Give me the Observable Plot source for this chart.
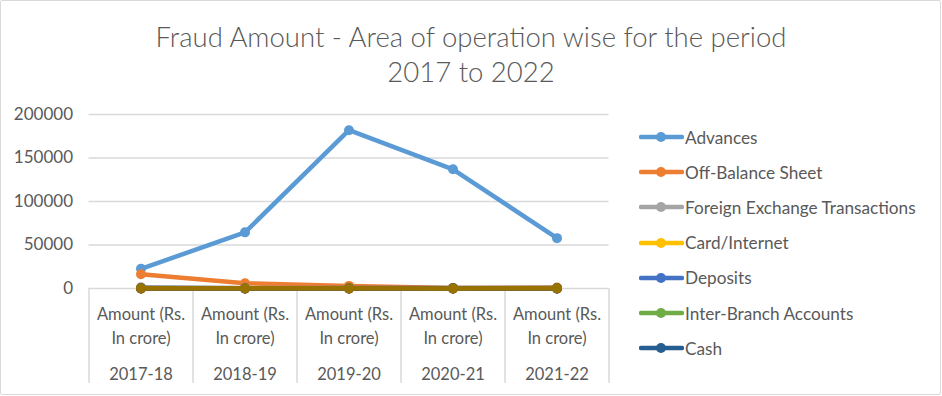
<!DOCTYPE html>
<html>
<head>
<meta charset="utf-8">
<script src="https://cdn.jsdelivr.net/npm/d3@7"></script>
<script src="https://cdn.jsdelivr.net/npm/@observablehq/plot@0.6"></script>
<style>
  html, body { margin: 0; padding: 0; background: #fff; }
  #chart { position: relative; width: 942px; height: 396px; box-sizing: border-box; font-family: Lato, "Open Sans", sans-serif; color: #595959; }
  #frame { position: absolute; left: 0; top: 0; width: 941px; height: 395px; box-sizing: border-box; border: 1.5px solid #d9d9d9; border-radius: 2px; pointer-events: none; }
  #title { position: absolute; left: 0; width: 942px; top: 19px; text-align: center; font-size: 27.5px; font-weight: 300; line-height: 35px; color: #595959; }
  #legend { position: absolute; left: 639px; top: 119.5px; }
  .item { display: flex; align-items: center; height: 35.2px; font-size: 17.2px; color: #595959; white-space: nowrap; }
  .item svg { margin-right: 1px; }
  #plot { position: absolute; left: 0; top: 0; }
</style>
</head>
<body>
<div id="chart">
  <div id="title">Fraud Amount - Area of operation wise for the period<br>2017 to 2022</div>
  <div id="plot"></div>
  <div id="legend"></div>
  <div id="frame"></div>
</div>
<script>
// ---- data (Rs. in crore) ----
const years = ["2017-18", "2018-19", "2019-20", "2020-21", "2021-22"];
const measureLines = ["Amount (Rs.", "In crore)"];
const seriesNames = [
  "Advances", "Off-Balance Sheet", "Foreign Exchange Transactions", "Card/Internet",
  "Deposits", "Inter-Branch Accounts", "Cash", "Cheques/DDs, etc.", "Clearing Accounts, etc.", "Others"
];
const advances    = [22558, 64548, 181942, 137023, 57900];
const offBalance  = [16288, 6000, 3000, 700, 1100];
const forex       = [1426, 695, 4, 2, 7];
const cardInternet = [65, 71, 129, 119, 155];
const deposits    = [457, 148, 616, 434, 493];
const interBranch = [1, 0, 0, 0, 0];
const cash        = [40, 56, 63, 39, 76];
const cheques     = [34, 34, 39, 85, 45];
const clearing    = [6, 0, 0, 0, 0];
const others      = [292, 200, 150, 130, 250];
const yTicks = [0, 50000, 100000, 150000, 200000];
const legendShown = 7; // the reference legend shows the first seven series

// ---- styles ----
const palette = ["#5B9BD5", "#ED7D31", "#A5A5A5", "#FFC000", "#4472C4", "#70AD47", "#255E91", "#9E480E", "#636363", "#997300"];
const seriesValues = [advances, offBalance, forex, cardInternet, deposits, interBranch, cash, cheques, clearing, others];

const rows = seriesNames.map((name, s) =>
  years.map((year, i) => ({series: name, idx: i, year, value: seriesValues[s][i]})));

const textColor = "#595959";
const gridColor = "#d9d9d9";

const seriesMarks = rows.flatMap(r => [
  Plot.line(r, {x: d => d.idx + 0.5, y: "value", stroke: "series", strokeWidth: 4.5, strokeLinejoin: "round", strokeLinecap: "round"}),
  Plot.dot(r, {x: d => d.idx + 0.5, y: "value", fill: "series", r: 5, stroke: "none"})
]);

const chart = Plot.plot({
  width: 942,
  height: 396,
  marginTop: 114,
  marginBottom: 108,
  marginLeft: 88.5,
  marginRight: 333.5,
  style: {fontFamily: "Lato, 'Open Sans', sans-serif", fontSize: "16px", color: textColor, background: "transparent"},
  x: {domain: [0, years.length], axis: null},
  y: {domain: [0, 200000], axis: null},
  color: {domain: seriesNames, range: palette},
  marks: [
    Plot.gridY(yTicks, {stroke: gridColor, strokeOpacity: 1, strokeWidth: 1.3}),
    Plot.ruleX(d3.range(years.length + 1), {y1: 0, y2: 0, insetBottom: -95, stroke: gridColor, strokeWidth: 1.5}),
    Plot.text(yTicks, {x: 0, y: d => d, text: d => String(d), textAnchor: "end", dx: -16, fill: textColor, fontSize: 17}),
    Plot.text(years, {x: (d, i) => i + 0.5, y: 0, text: () => measureLines[0], dy: 26, fill: textColor, fontSize: 16.5}),
    Plot.text(years, {x: (d, i) => i + 0.5, y: 0, text: () => measureLines[1], dy: 50, fill: textColor, fontSize: 16.5}),
    Plot.text(years, {x: (d, i) => i + 0.5, y: 0, text: d => d, dy: 86, fill: textColor, fontSize: 16.5}),
    ...seriesMarks
  ]
});
document.getElementById("plot").appendChild(chart);

// ---- legend ----
const legend = document.getElementById("legend");
seriesNames.slice(0, legendShown).forEach((name, s) => {
  const item = document.createElement("div");
  item.className = "item";
  item.innerHTML = `<svg width="45" height="12"><line x1="2" x2="43" y1="6" y2="6" stroke="${palette[s]}" stroke-width="4.5" stroke-linecap="round"/><circle cx="22" cy="6" r="5" fill="${palette[s]}"/></svg><span>${name}</span>`;
  legend.appendChild(item);
});
</script>
</body>
</html>
